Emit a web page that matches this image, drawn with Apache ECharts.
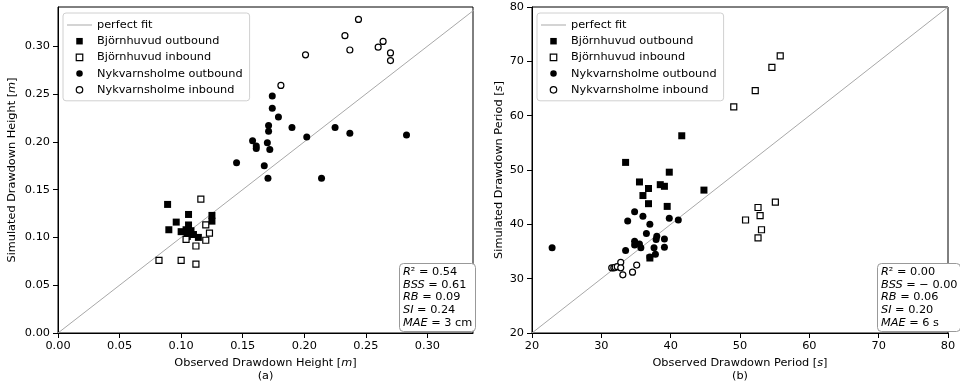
<!DOCTYPE html>
<html><head><meta charset="utf-8">
<script src="https://cdn.jsdelivr.net/npm/echarts@6/dist/echarts.min.js"></script>
<style>html,body{margin:0;padding:0;background:#fff}#c{width:960px;height:384px}</style>
</head><body><div id="c"></div>
<script>
// ---- data ----
const leftTicks = [0, 0.05, 0.10, 0.15, 0.20, 0.25, 0.30];
const rightTicks = [20, 30, 40, 50, 60, 70, 80];
const leftXLimit = [0, 0.337];
const leftYLimit = [0, 0.341];
const rightLimit = [20, 80];

const heightBjOut = [[0.089,0.1345],[0.106,0.124],[0.096,0.116],[0.090,0.108],[0.106,0.113],[0.100,0.106],[0.104,0.108],[0.108,0.107],[0.105,0.101],[0.114,0.100],[0.125,0.123],[0.125,0.117],[0.110,0.103]];
const heightBjIn = [[0.116,0.140],[0.120,0.113],[0.123,0.1045],[0.120,0.097],[0.112,0.091],[0.104,0.098],[0.082,0.076],[0.100,0.076],[0.112,0.072]];
const heightNyOut = [[0.174,0.248],[0.174,0.235],[0.179,0.226],[0.171,0.217],[0.171,0.211],[0.190,0.215],[0.225,0.215],[0.202,0.205],[0.237,0.209],[0.283,0.207],[0.158,0.201],[0.161,0.1955],[0.161,0.193],[0.170,0.199],[0.172,0.192],[0.145,0.178],[0.1675,0.175],[0.1705,0.162],[0.214,0.162]];
const heightNyIn = [[0.181,0.259],[0.201,0.291],[0.233,0.311],[0.237,0.296],[0.244,0.328],[0.260,0.299],[0.264,0.305],[0.270,0.293],[0.270,0.285]];

const periodBjOut = [[41.6,56.3],[33.5,51.4],[39.8,49.6],[35.5,47.8],[36.8,46.6],[38.5,47.3],[39.1,47.0],[36.0,45.3],[44.8,46.3],[36.8,43.8],[39.5,43.3],[37.0,33.8]];
const periodBjIn = [[55.8,71.0],[54.6,68.9],[52.2,64.6],[49.1,61.6],[55.1,44.1],[52.6,43.1],[52.9,41.6],[50.8,40.8],[53.1,39.0],[52.6,37.5]];
const periodNyOut = [[34.8,42.3],[33.8,40.6],[36.0,41.5],[37.0,40.0],[39.8,41.1],[41.1,40.8],[36.5,38.3],[38.0,37.8],[37.9,37.2],[39.1,37.3],[34.8,36.9],[35.5,36.4],[34.8,36.2],[35.7,35.7],[33.5,35.2],[37.6,35.7],[39.1,35.8],[37.0,34.0],[37.8,34.5],[22.9,35.7]];
const periodNyIn = [[31.5,32.0],[31.8,32.0],[32.0,32.1],[32.3,32.2],[32.8,33.0],[32.8,32.0],[33.1,30.7],[34.5,31.2],[35.1,32.5]];

const statsHeight = ['{i|R}² = 0.54', '{i|BSS} = 0.61', '{i|RB} = 0.09', '{i|SI} = 0.24', '{i|MAE} = 3 cm'];
const statsPeriod = ['{i|R}² = 0.00', '{i|BSS} = − 0.00', '{i|RB} = 0.06', '{i|SI} = 0.20', '{i|MAE} = 6 s'];

const NAMES = ['perfect fit', 'Björnhuvud outbound', 'Björnhuvud inbound', 'Nykvarnsholme outbound', 'Nykvarnsholme inbound'];

// ---- chart ----
const FONT = 'DejaVu Sans';
const FS = 11.3;
const chart = echarts.init(document.getElementById('c'), null, {renderer: 'canvas'});

function axis(gi, ticks, lim, fmt, name, isX, gap) {
  return {
    type: 'value', gridIndex: gi, min: lim[0], max: lim[1],
    name: name, nameLocation: 'middle', nameGap: gap,
    nameTextStyle: {color: '#000', fontFamily: FONT, fontSize: FS, lineHeight: 13,
      rich: {i: {fontStyle: 'italic', fontFamily: FONT, fontSize: FS, color: '#000', lineHeight: 13}}},
    splitLine: {show: false},
    axisLine: {show: true, onZero: false, lineStyle: {color: '#000', width: 1}},
    axisTick: {show: true, inside: false, length: 5, lineStyle: {color: '#000'}, customValues: ticks},
    axisLabel: {color: '#000', fontFamily: FONT, fontSize: FS, margin: 8, customValues: ticks, formatter: fmt}
  };
}

const markerStyles = [
  {symbol: 'rect', symbolSize: 7, itemStyle: {color: '#000', opacity: 1}},
  {symbol: 'rect', symbolSize: 6, itemStyle: {color: '#fff', borderColor: '#000', borderWidth: 1.2, opacity: 1}},
  {symbol: 'circle', symbolSize: 7, itemStyle: {color: '#000', opacity: 1}},
  {symbol: 'circle', symbolSize: 6, itemStyle: {color: '#fff', borderColor: '#000', borderWidth: 1.2, opacity: 1}}
];

function seriesFor(gi, xl, yl, sets) {
  const hi = Math.max(xl[1], yl[1]);
  const out = [{
    name: NAMES[0], type: 'line', xAxisIndex: gi, yAxisIndex: gi, symbol: 'none', clip: true,
    data: [[xl[0], xl[0]], [hi, hi]],
    lineStyle: {color: '#a8a8a8', width: 1}, itemStyle: {color: '#a8a8a8'}, z: 1, silent: true
  }];
  sets.forEach((d, k) => {
    out.push(Object.assign({name: NAMES[k + 1], type: 'scatter', xAxisIndex: gi, yAxisIndex: gi, data: d, z: 3}, markerStyles[k]));
  });
  return out;
}

const SQ = 'path://M0,0L10,0L10,10L0,10Z';
function legendAt(left) {
  return {
    orient: 'vertical', left: left, top: 13,
    data: [
      {name: NAMES[0], icon: 'path://M0,0L25,0L25,1L0,1Z', itemStyle: {color: '#a8a8a8', borderWidth: 0}},
      {name: NAMES[1], icon: SQ, itemStyle: {color: '#000', borderWidth: 0, opacity: 1}},
      {name: NAMES[2], icon: 'path://M0.6,0.6L9.4,0.6L9.4,9.4L0.6,9.4Z', itemStyle: {color: '#fff', borderColor: '#000', borderWidth: 1.2, opacity: 1}},
      {name: NAMES[3], icon: 'circle', itemStyle: {color: '#000', borderWidth: 0, opacity: 1}},
      {name: NAMES[4], icon: 'circle', itemStyle: {color: '#fff', borderColor: '#000', borderWidth: 1.2, opacity: 1}}
    ],
    symbolKeepAspect: true,
    itemWidth: 25, itemHeight: 6.5, itemGap: 2.2, itemTextGap: 8,
    padding: [5, 7, 4, 4],
    backgroundColor: '#fff', borderColor: '#d0d0d0', borderWidth: 1, borderRadius: 3,
    textStyle: {color: '#000', fontFamily: FONT, fontSize: FS, lineHeight: 14},
    selectedMode: false
  };
}

function statsBox(left, lines) {
  return {
    left: left, top: 263,
    text: lines.join('\n'),
    padding: [3, 3, 3, 4],
    borderColor: '#999', borderWidth: 1, borderRadius: 4, backgroundColor: '#fff',
    textStyle: {color: '#000', fontFamily: FONT, fontSize: FS, fontWeight: 'normal', lineHeight: 12.6,
      rich: {i: {fontStyle: 'italic', fontFamily: FONT, fontSize: FS, color: '#000', lineHeight: 12.6}}},
    textAlign: 'left'
  };
}

const fmtH = v => v.toFixed(2);
const fmtP = v => String(v);

chart.setOption({
  animation: false,
  backgroundColor: '#fff',
  grid: [
    {left: 58, top: 7, width: 415, height: 326, show: true, borderColor: '#000', borderWidth: 1, backgroundColor: 'transparent', containLabel: false, outerBoundsMode: 'none'},
    {left: 532, top: 7, width: 416, height: 326, show: true, borderColor: '#000', borderWidth: 1, backgroundColor: 'transparent', containLabel: false, outerBoundsMode: 'none'}
  ],
  xAxis: [
    axis(0, leftTicks, leftXLimit, fmtH, 'Observed Drawdown Height [{i|m}]\n(a)', true, 23),
    axis(1, rightTicks, rightLimit, fmtP, 'Observed Drawdown Period [{i|s}]\n(b)', true, 23)
  ],
  yAxis: [
    axis(0, leftTicks, leftYLimit, fmtH, 'Simulated Drawdown Height [{i|m}]', false, 39.5),
    axis(1, rightTicks, rightLimit, fmtP, 'Simulated Drawdown Period [{i|s}]', false, 25.5)
  ],
  legend: [legendAt(63), legendAt(537)],
  title: [statsBox(399, statsHeight), statsBox(877, statsPeriod)],
  series: [].concat(
    seriesFor(0, leftXLimit, leftYLimit, [heightBjOut, heightBjIn, heightNyOut, heightNyIn]),
    seriesFor(1, rightLimit, rightLimit, [periodBjOut, periodBjIn, periodNyOut, periodNyIn])
  )
});
</script>
</body></html>
